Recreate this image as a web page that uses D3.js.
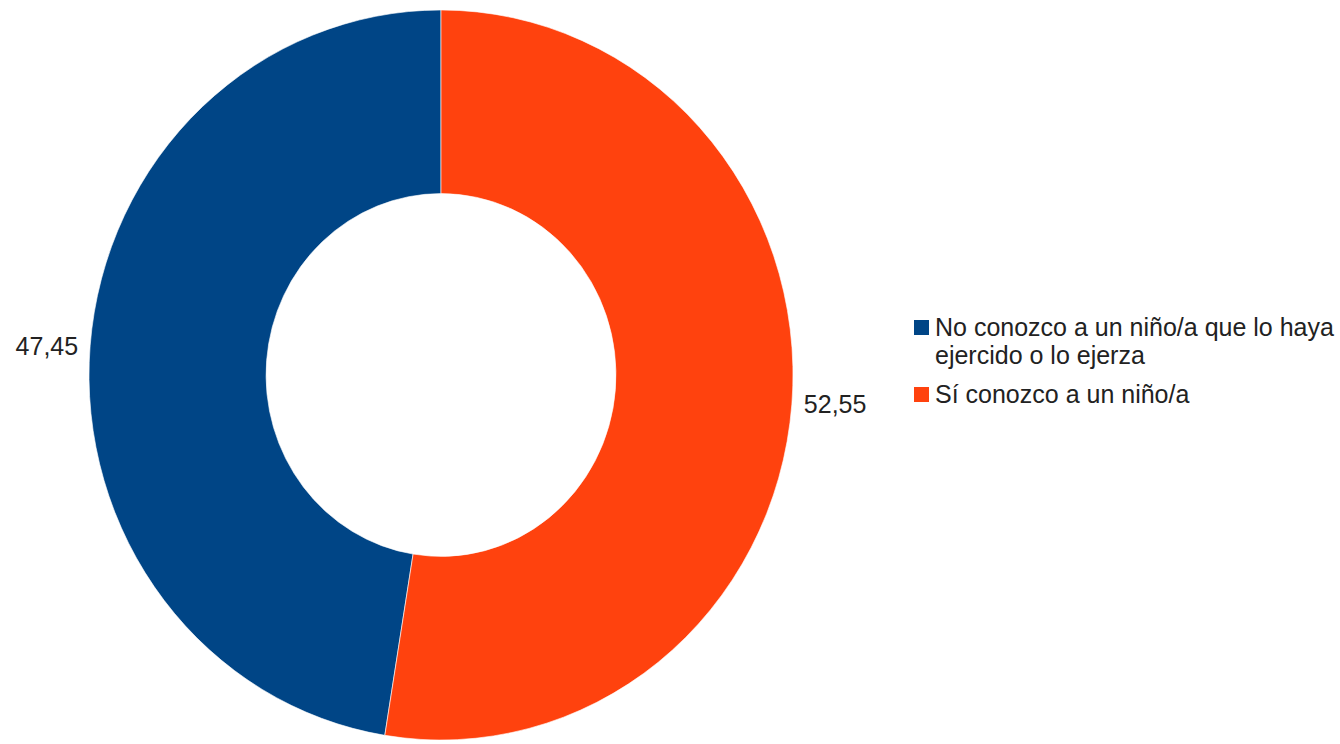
<!DOCTYPE html>
<html>
<head>
<meta charset="utf-8">
<script src="https://cdn.jsdelivr.net/npm/d3@7"></script>
<style>
  html, body { margin: 0; padding: 0; background: #fff; }
  svg { display: block; }
  text { font-family: "Liberation Sans", Arial, sans-serif; fill: #222; }
</style>
</head>
<body>
<svg id="chart" width="1340" height="744"></svg>
<script>
const categories = ["No conozco a un niño/a que lo haya ejercido o lo ejerza", "Sí conozco a un niño/a"];
const values = [47.45, 52.55];
const valueLabels = ["47,45", "52,55"];
const legendLines = [["No conozco a un niño/a que lo haya", "ejercido o lo ejerza"], ["Sí conozco a un niño/a"]];
const colors = ["#004586", "#ff420e"];

const svg = d3.select("#chart");
const cx = 441, cy = 375, R = 352, yScale = 1.037;

const total = d3.sum(values);
const start = -2 * Math.PI * values[0] / total;
const pie = d3.pie().sort(null).value(d => d).startAngle(start).endAngle(start + 2 * Math.PI);
const arcs = pie(values);
const arc = d3.arc().innerRadius(R * 0.497).outerRadius(R);

const g = svg.append("g").attr("transform", `translate(${cx},${cy}) scale(1,${yScale})`);
g.selectAll("path").data(arcs).join("path")
  .attr("d", arc)
  .attr("fill", (d, i) => colors[i])
  .attr("stroke", "#fff")
  .attr("stroke-width", 0.6);

// value labels outside
arcs.forEach((d, i) => {
  const a = (d.startAngle + d.endAngle) / 2;
  const x = cx + Math.sin(a) * (R + 12);
  const y = cy - Math.cos(a) * R * yScale;
  svg.append("text")
    .attr("x", x).attr("y", y)
    .attr("dy", "0.36em")
    .attr("text-anchor", Math.sin(a) < 0 ? "end" : "start")
    .attr("font-size", 25)
    .text(valueLabels[i]);
});

// legend
const lx = 914, ly = [336, 403];
categories.forEach((c, i) => {
  svg.append("rect").attr("x", lx).attr("y", ly[i] - 16).attr("width", 15).attr("height", 15).attr("fill", colors[i]);
  const t = svg.append("text").attr("x", lx + 21).attr("y", ly[i]).attr("font-size", 25);
  legendLines[i].forEach((line, j) => {
    t.append("tspan").attr("x", lx + 21).attr("dy", j === 0 ? 0 : 28).text(line);
  });
});
</script>
</body>
</html>
